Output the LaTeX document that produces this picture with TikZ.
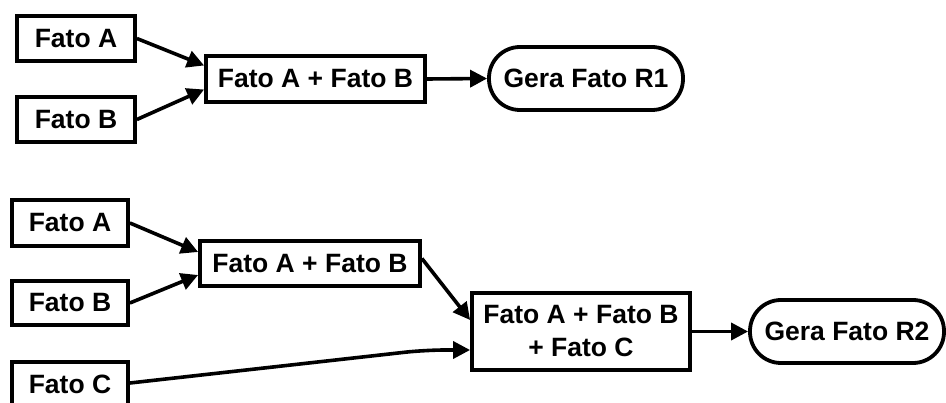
\documentclass[tikz,border=0pt]{standalone}
\usepackage{fontspec}
\setmainfont{Liberation Sans}
\usetikzlibrary{arrows.meta,calc}
\begin{document}
\begin{tikzpicture}[x=1pt,y=-1pt,
  box/.style={draw, line width=3.8pt, fill=white, inner sep=0pt, align=center,
    font=\fontsize{26.5}{33}\selectfont\bfseries},
  term/.style={box, rounded corners=31pt},
  link/.style={line width=3.6pt, -{Triangle[length=17pt,width=17pt]}}]
\useasboundingbox (0,0) rectangle (946,403);

% first rule: A and B give R1
\node[box, minimum width=118pt, minimum height=45pt] (fa1) at (76,38.5) {Fato A};
\node[box, minimum width=118pt, minimum height=45pt] (fb1) at (76,119.5) {Fato B};
\node[box, minimum width=219pt, minimum height=46pt] (ab1) at (315.5,79) {Fato A + Fato B};
\node[term, minimum width=194pt, minimum height=63pt] (r1) at (586,78.5) {Gera Fato R1};

\draw[link] (fa1.east) -- ([yshift=13.5pt]ab1.west);
\draw[link] (fb1.east) -- ([yshift=-10.5pt]ab1.west);
\draw[link] (ab1.east) -- (r1.west);

% second rule: A, B and C give R2
\node[box, minimum width=116pt, minimum height=46pt] (fa2) at (70,223) {Fato A};
\node[box, minimum width=116pt, minimum height=44pt] (fb2) at (70,303) {Fato B};
\node[box, minimum width=116pt, minimum height=45pt] (fc2) at (70,384.5) {Fato C};
\node[box, minimum width=220pt, minimum height=45pt] (ab2) at (310,263.5) {Fato A + Fato B};
\node[box, minimum width=218pt, minimum height=77pt] (abc) at (581,331.5) {Fato A + Fato B\\+ Fato C};
\node[term, minimum width=194pt, minimum height=63pt] (r2) at (847,331.5) {Gera Fato R2};

\coordinate (cbend) at (425,350);
\draw[link] (fa2.east) -- ([yshift=11.5pt]ab2.west);
\draw[link] (fb2.east) -- ([yshift=-11.5pt]ab2.west);
\draw[link] ([yshift=5pt]ab2.east) -- ([yshift=11.5pt]abc.west);
\draw[link, rounded corners=20pt] ([yshift=1.5pt]fc2.east) -- (cbend) -- ([yshift=-18.5pt]abc.west);
\draw[link] (abc.east) -- (r2.west);
\end{tikzpicture}
\end{document}
